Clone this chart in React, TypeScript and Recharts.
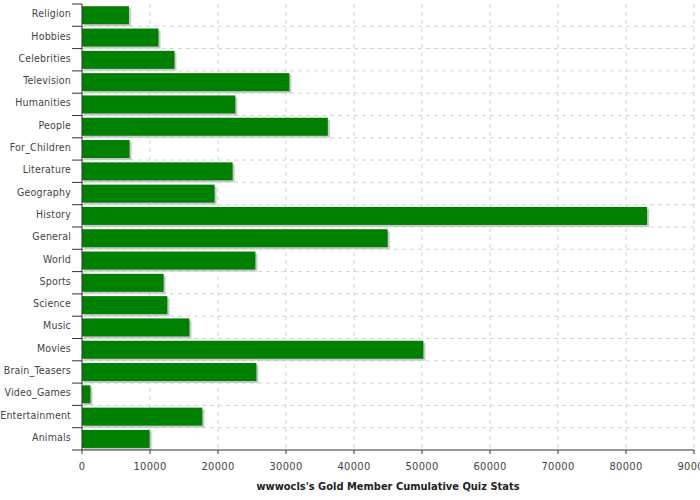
import { BarChart, Bar, XAxis, YAxis, CartesianGrid } from "recharts";

const categories = [
  "Religion",
  "Hobbies",
  "Celebrities",
  "Television",
  "Humanities",
  "People",
  "For_Children",
  "Literature",
  "Geography",
  "History",
  "General",
  "World",
  "Sports",
  "Science",
  "Music",
  "Movies",
  "Brain_Teasers",
  "Video_Games",
  "Entertainment",
  "Animals",
];

const quizTotals = [
  6900, 11250, 13600, 30500, 22550, 36150, 7000, 22150, 19500, 83100, 44950,
  25500, 12000, 12550, 15800, 50200, 25650, 1250, 17700, 9950,
];

const xTicks = [0, 10000, 20000, 30000, 40000, 50000, 60000, 70000, 80000, 90000];

const W = 700;
const H = 500;
const MARGIN = { top: 4, right: 6, left: 0, bottom: 0 };
const Y_AXIS_W = 82;
const X_AXIS_H = 50;
const PLOT_H = H - MARGIN.top - MARGIN.bottom - X_AXIS_H;
const BAND = PLOT_H / categories.length;
const AXIS_X = MARGIN.left + Y_AXIS_W;

const data = categories.map((name, i) => ({ name, value: quizTotals[i] }));

// category labels plus tick marks on the band boundaries
function CategoryTick(props: any) {
  const { y, payload, index } = props;
  const top = y - BAND / 2;
  return (
    <g>
      <line x1={AXIS_X - 10} x2={AXIS_X} y1={top} y2={top} stroke="#333" />
      {index === categories.length - 1 && (
        <line x1={AXIS_X - 10} x2={AXIS_X} y1={top + BAND} y2={top + BAND} stroke="#333" />
      )}
      <text
        x={AXIS_X - 11}
        y={y}
        dy="0.2em"
        textAnchor="end"
        fill="#444"
        fontSize={10.5}
        fontFamily="DejaVu Sans Condensed"
        letterSpacing={0.2}
      >
        {payload.value}
      </text>
    </g>
  );
}

function ShadowBar(props: any) {
  const { x, y, width, height, fill } = props;
  if (!width) return null;
  return (
    <g>
      <rect x={x + 2} y={y + 2} width={width} height={height} fill="#c8c8c8" />
      <rect x={x} y={y} width={width} height={height} fill={fill} />
    </g>
  );
}

const gridRows = categories.slice(1).map((_, i) => MARGIN.top + (i + 1) * BAND);

export default function App() {
  return (
    <div style={{ position: "absolute", left: 0, top: 0, background: "#fff" }}>
      <BarChart
        width={W}
        height={H}
        data={data}
        layout="vertical"
        margin={MARGIN}
        barCategoryGap="10%"
      >
        <CartesianGrid
          stroke="#cdd6db"
          strokeDasharray="4 4"
          horizontalCoordinatesGenerator={() => gridRows}
        />
        <XAxis
          type="number"
          domain={[0, 90000]}
          ticks={xTicks}
          interval={0}
          height={X_AXIS_H}
          stroke="#333"
          tickSize={4}
          tickMargin={8}
          tick={{ fill: "#444", fontSize: 11, fontFamily: "DejaVu Sans Condensed", letterSpacing: 0.3 }}
          label={{
            value: "wwwocls's Gold Member Cumulative Quiz Stats",
            position: "insideBottom",
            offset: 10,
            fill: "#222",
            fontSize: 11,
            fontWeight: "bold",
            fontFamily: "DejaVu Sans Condensed",
          }}
        />
        <XAxis
          xAxisId="top"
          orientation="top"
          type="number"
          domain={[0, 90000]}
          height={0}
          tick={false}
          tickLine={false}
          stroke="#333"
        />
        <YAxis
          type="category"
          dataKey="name"
          width={Y_AXIS_W}
          stroke="#333"
          tickLine={false}
          interval={0}
          tick={<CategoryTick />}
        />
        <YAxis
          yAxisId="right"
          orientation="right"
          type="number"
          domain={[0, 1]}
          width={0}
          tick={false}
          tickLine={false}
          stroke="#333"
        />
        <Bar
          dataKey="value"
          fill="#008000"
          shape={<ShadowBar />}
          isAnimationActive={false}
        />
      </BarChart>
    </div>
  );
}
